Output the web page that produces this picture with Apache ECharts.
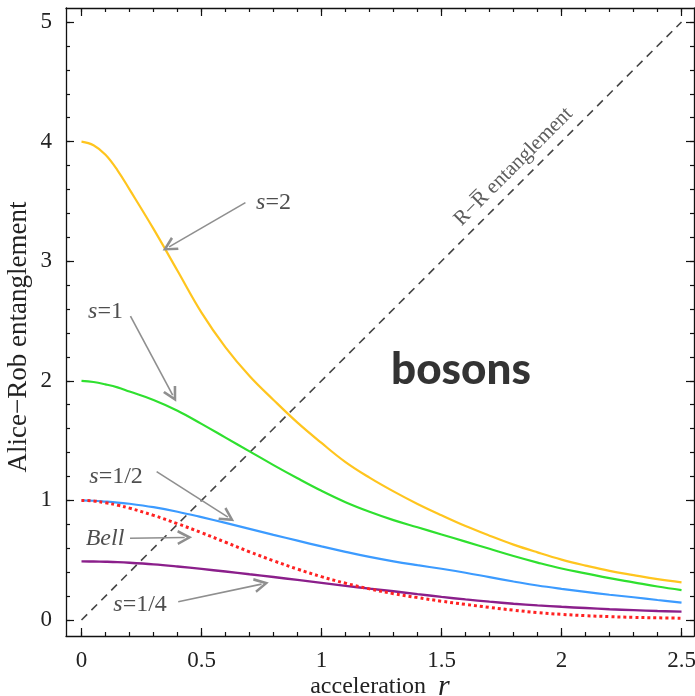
<!DOCTYPE html>
<html><head><meta charset="utf-8">
<script src="https://cdn.jsdelivr.net/npm/echarts@6/dist/echarts.min.js"></script>
<style>html,body{margin:0;padding:0;background:#fff}#c{width:695px;height:696px}</style>
</head><body><div id="c"></div>
<script>
// ---- data ----
const rValues = [0,0.05,0.1,0.15,0.2,0.3,0.4,0.5,0.6,0.7,0.8,0.9,1.0,1.1,1.2,1.3,1.4,1.5,1.6,1.7,1.8,1.9,2.0,2.1,2.2,2.3,2.4,2.5];
const s2Values   = [4.00,3.97,3.89,3.76,3.60,3.27,2.92,2.57,2.28,2.04,1.84,1.65,1.48,1.32,1.19,1.075,0.97,0.875,0.785,0.705,0.63,0.565,0.505,0.455,0.41,0.375,0.342,0.315];
const s1Values   = [2.00,1.99,1.97,1.945,1.91,1.84,1.75,1.64,1.525,1.41,1.295,1.185,1.08,0.985,0.905,0.835,0.775,0.715,0.655,0.595,0.535,0.48,0.43,0.39,0.35,0.315,0.28,0.25];
const sHalfValues= [1.00,0.997,0.99,0.982,0.972,0.943,0.905,0.86,0.812,0.762,0.712,0.663,0.615,0.57,0.527,0.49,0.458,0.428,0.395,0.358,0.322,0.288,0.26,0.235,0.211,0.19,0.167,0.145];
const bellValues = [1.00,0.995,0.98,0.96,0.935,0.875,0.805,0.73,0.65,0.57,0.495,0.425,0.362,0.307,0.26,0.22,0.187,0.157,0.13,0.105,0.082,0.062,0.047,0.036,0.028,0.022,0.018,0.015];
const sQuarterValues = [0.49,0.489,0.487,0.484,0.479,0.465,0.447,0.427,0.405,0.382,0.359,0.335,0.31,0.285,0.262,0.24,0.216,0.193,0.172,0.153,0.136,0.122,0.11,0.1,0.09,0.082,0.075,0.07];
const rrX = [0, 2.5];
const rrY = [0, 5];

const xMajorTicks = [0,0.5,1,1.5,2,2.5];
const xMinorTicks = [0,0.1,0.2,0.3,0.4,0.5,0.6,0.7,0.8,0.9,1,1.1,1.2,1.3,1.4,1.5,1.6,1.7,1.8,1.9,2,2.1,2.2,2.3,2.4,2.5];
const yMajorTicks = [0,1,2,3,4,5];
const yMinorTicks = [0,0.2,0.4,0.6,0.8,1,1.2,1.4,1.6,1.8,2,2.2,2.4,2.6,2.8,3,3.2,3.4,3.6,3.8,4,4.2,4.4,4.6,4.8,5];

// annotations (data coordinates)
const annoTexts = ['{i|s}=2', '{i|s}=1', '{i|s}=1/2', '{i|Bell}', '{i|s}=1/4'];
const annoX = [0.80, 0.10, 0.144, 0.098, 0.244];
const annoY = [3.49, 2.58, 1.20, 0.683, 0.125];
const arrowFromX = [0.683, 0.204, 0.313, 0.202, 0.403];
const arrowFromY = [3.49, 2.54, 1.24, 0.683, 0.153];
const arrowToX = [0.365, 0.38, 0.61, 0.43, 0.75];
const arrowToY = [3.12, 1.88, 0.86, 0.690, 0.300];
const rrLabel = 'R\u2212R\u0305 entanglement';
const rrLabelPos = [1.80, 3.79];
const bosonsLabel = 'bosons';
const bosonsPos = [1.581, 2.09];

// ---- chart ----
const serif = '"Liberation Serif", "Times New Roman", serif';
const XMIN = -0.0646, XMAX = 2.552, YMIN = -0.134, YMAX = 5.117;
const zip = (a, b) => a.map((v, i) => [v, b[i]]);

function xAx(pos, ticks, len, labels, line, extra) {
  return Object.assign({
    type: 'value', gridIndex: 0, position: pos, min: XMIN, max: XMAX,
    axisLine: { show: line, onZero: false, lineStyle: { color: '#111', width: 1.3 } },
    axisTick: { show: true, inside: true, length: len, customValues: ticks, lineStyle: { color: '#111', width: 1.2 } },
    axisLabel: labels ? { show: true, customValues: ticks, fontFamily: serif, fontSize: 23, color: '#222', margin: 13 } : { show: false },
    splitLine: { show: false }
  }, extra || {});
}
function yAx(pos, ticks, len, labels, line, extra) {
  return Object.assign({
    type: 'value', gridIndex: 0, position: pos, min: YMIN, max: YMAX,
    axisLine: { show: line, onZero: false, lineStyle: { color: '#111', width: 1.3 } },
    axisTick: { show: true, inside: true, length: len, customValues: ticks, lineStyle: { color: '#111', width: 1.2 } },
    axisLabel: labels ? { show: true, customValues: ticks, fontFamily: serif, fontSize: 23, color: '#222', margin: 14 } : { show: false },
    splitLine: { show: false }
  }, extra || {});
}

const curveStyle = (color, width, type) => ({ color: color, width: width, type: type || 'solid' });
const curve = (ys, style, z) => ({ type: 'line', data: zip(rValues, ys), smooth: 0.4,
  symbol: 'none', clip: false, lineStyle: style, z: z });

const arrowHead = 'path://M5,0 L10,11 L8.4,11.8 L5,4.2 L1.6,11.8 L0,11 Z';

const series = [
  { type: 'line', data: zip(rrX, rrY), showSymbol: false, symbol: 'none', clip: false,
    lineStyle: { color: '#444', width: 1.6, type: [8, 6] }, z: 2 },
  curve(s2Values, curveStyle('#FFC51E', 2.2), 3),
  curve(s1Values, curveStyle('#2FE02F', 2.2), 3),
  curve(sHalfValues, curveStyle('#3C9BFF', 2.2), 3),
  curve(sQuarterValues, curveStyle('#8B1F8B', 2.4), 3),
  curve(bellValues, curveStyle('#FF2222', 3, [3, 3]), 4),
  { type: 'lines', coordinateSystem: 'cartesian2d', polyline: false,
    data: arrowFromX.map((x, i) => ({ coords: [[x, arrowFromY[i]], [arrowToX[i], arrowToY[i]]] })),
    symbol: ['none', arrowHead], symbolSize: [13, 15],
    itemStyle: { color: '#8f8f8f' },
    lineStyle: { color: '#8f8f8f', width: 1.6, opacity: 1, curveness: 0 }, z: 5 },
  { type: 'scatter', symbolSize: 0, z: 6, silent: true,
    data: annoTexts.map((t, i) => ({ value: [annoX[i], annoY[i]],
      label: { show: true, position: 'inside', formatter: t, fontFamily: serif, fontSize: 24, color: '#222',
        rich: { i: { fontFamily: serif, fontStyle: 'italic', fontSize: 24, color: '#222' } } } })) },
  { type: 'scatter', symbolSize: 0, z: 6, silent: true,
    data: [{ value: rrLabelPos, label: { show: true, position: 'inside', rotate: 45, formatter: rrLabel,
      fontFamily: serif, fontSize: 21, color: '#333' } }] },
  { type: 'scatter', symbolSize: 0, z: 6, silent: true,
    data: [{ value: bosonsPos, label: { show: true, position: 'inside', formatter: bosonsLabel,
      fontFamily: 'Lato, "Open Sans", sans-serif', fontWeight: 900, fontSize: 44, color: '#000' } }] }
];

const option = {
  animation: false,
  backgroundColor: '#fff',
  grid: [{ left: 66, top: 8, right: 1, bottom: 60, containLabel: false, outerBoundsMode: 'none' }],
  xAxis: [
    xAx('bottom', xMajorTicks, 8, true, true, {
      name: 'acceleration  {r|r}', nameLocation: 'middle', nameGap: 36, nameMoveOverlap: false,
      nameTextStyle: { fontFamily: serif, fontSize: 24, color: '#222',
        rich: { r: { fontFamily: serif, fontStyle: 'italic', fontSize: 30, color: '#222' } } } }),
    xAx('top', xMajorTicks, 8, false, true),
    xAx('bottom', xMinorTicks, 4, false, false),
    xAx('top', xMinorTicks, 4, false, false)
  ],
  yAxis: [
    yAx('left', yMajorTicks, 8, true, true, {
      name: 'Alice\u2212Rob entanglement', nameLocation: 'middle', nameGap: 34, nameRotate: 90, nameMoveOverlap: false,
      nameTextStyle: { fontFamily: serif, fontSize: 27, color: '#222', padding: [0, 30, 0, 0] } }),
    yAx('right', yMajorTicks, 8, false, true),
    yAx('left', yMinorTicks, 4, false, false),
    yAx('right', yMinorTicks, 4, false, false)
  ],
  series: series
};
const chart = echarts.init(document.getElementById('c'));
chart.setOption(option);
</script>
</body></html>
